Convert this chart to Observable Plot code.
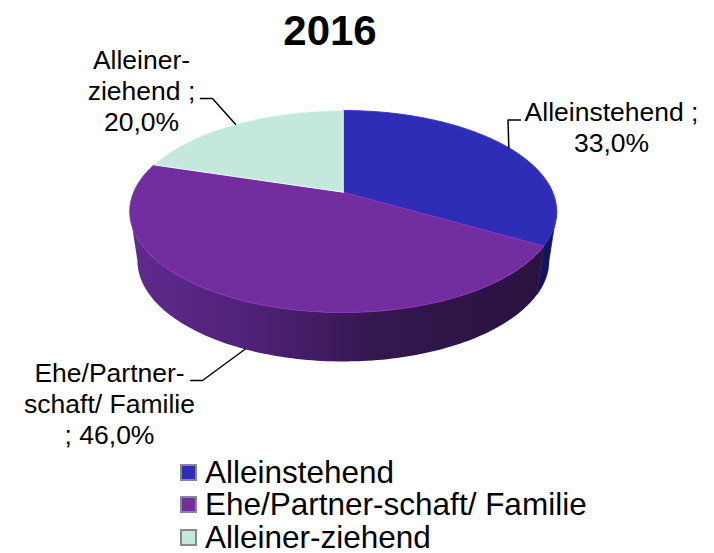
<!DOCTYPE html>
<html><head><meta charset="utf-8">
<script src="https://cdn.jsdelivr.net/npm/d3@7"></script>
<script src="https://cdn.jsdelivr.net/npm/@observablehq/plot@0.6"></script>
<style>
html,body{margin:0;padding:0;background:#fff;overflow:hidden;width:714px;height:553px}
body{font-family:"Liberation Sans",Arial,sans-serif;color:#000}
#title{height:40px;width:660px;text-align:center;font-weight:bold;font-size:42px;line-height:62px;position:relative;z-index:1}
#chart svg{display:block}
#legend{margin:1px 0 0 180px;height:97px}
.row{display:flex;align-items:center;height:32.5px;font-size:31.5px;line-height:31.5px;white-space:nowrap}
.sw{width:13px;height:13px;border:2px solid #888;margin-right:8px;flex:none}
</style></head>
<body>
<div id="title"></div><div id="chart"></div><div id="legend"></div>
<script>
const title = "2016";
const categories = ["Alleinstehend", "Ehe/Partner-schaft/ Familie", "Alleiner-ziehend"];
const shares = [33, 46, 20];
const labelLines = [["Alleinstehend ;"], ["Ehe/Partner-", "schaft/ Familie", ";"], ["Alleiner-", "ziehend ;"]];
const topColors = ["#2e2db5", "#722d9e", "#c4e8dc"];
const labelCentres = [[611, 126], [109, 402.5], [141, 89.5]];
const elbows = [[[507.5, 119.5], [520, 119.5]], [[202, 380], [190, 380]], [[212, 98], [200, 98]]];

// Perspective of the pie disc (chart px)
const cx = 342.7, cy = 191.7, a = 209.5, b = 97.3, k = 0.191, depth = 49, a2 = 202;
const project = (t, bottom = false) => {
  const X = Math.sin(t), Y = Math.cos(t), w = 1 + k * Y;
  return {x: cx + (bottom ? a2 : a) * X / w, y: cy - b * Y / w + (bottom ? depth : 0)};
};
const arc = (t0, t1, bottom = false) =>
  d3.range(0, 121).map(i => project(t0 + (t1 - t0) * i / 120, bottom));

const total = d3.sum(shares);
let acc = 0;
const slices = shares.map((v, i) => {
  const t0 = acc / total * 2 * Math.PI; acc += v;
  const t1 = acc / total * 2 * Math.PI;
  return {i, t0, t1, mid: (t0 + t1) / 2};
});

const turnR = Math.acos(-k), turnL = 2 * Math.PI - turnR;
const sidePoly = (t0, t1) => [...arc(t0, t1), ...arc(t1, t0, true), project(t0)];
const facePoly = s => [{x: cx, y: cy}, ...arc(s.t0, s.t1), {x: cx, y: cy}];

const marks = [];
marks.push(Plot.line(sidePoly(turnR, slices[0].t1), {x: "x", y: "y", fill: "#12145c", stroke: "#12145c", strokeWidth: 0.7}));
marks.push(Plot.line(sidePoly(slices[1].t0, turnL), {x: "x", y: "y", fill: "url(#sideGrad)", stroke: "none"}));
slices.forEach(s => marks.push(Plot.line(facePoly(s), {x: "x", y: "y", fill: topColors[s.i], stroke: d3.color(topColors[s.i]).brighter(0.5).formatHex(), strokeWidth: 1})));

const fmt = v => v.toFixed(1).replace(".", ",") + "%";
slices.forEach(s => {
  const bottom = s.i === 1;
  const anchor = project(s.mid, bottom);
  const pts = [anchor, ...elbows[s.i].map(([x, y]) => ({x, y}))];
  marks.push(Plot.line(pts, {x: "x", y: "y", stroke: "#000", strokeWidth: 1.5}));
  const lines = labelLines[s.i].slice();
  const val = fmt(shares[s.i]);
  if (lines[lines.length - 1] === ";") lines[lines.length - 1] = "; " + val; else lines.push(val);
  marks.push(Plot.text([lines.join("\n")], {
    x: () => labelCentres[s.i][0], y: () => labelCentres[s.i][1],
    text: d => d, fontSize: 26.5, lineHeight: 1.17, fill: "#000", textAnchor: "middle",
    fontFamily: "Liberation Sans, Arial, sans-serif"
  }));
});

const svg = Plot.plot({
  width: 714, height: 415, margin: 0,
  x: {domain: [0, 714], range: [0, 714], axis: null},
  y: {domain: [40, 455], range: [0, 415], axis: null},
  style: {background: "transparent", fontFamily: "Liberation Sans, Arial, sans-serif"},
  marks
});
const defs = d3.select(svg).insert("defs", ":first-child");
const g = defs.append("linearGradient").attr("id", "sideGrad")
  .attr("gradientUnits", "userSpaceOnUse").attr("x1", 130).attr("x2", 540).attr("y1", 0).attr("y2", 0);
[[0, "#5f2b8f"], [0.3, "#4f2176"], [0.6, "#34174f"], [1, "#2a1240"]].forEach(([o, c]) =>
  g.append("stop").attr("offset", o).attr("stop-color", c));

document.getElementById("chart").append(svg);
document.getElementById("title").textContent = title;
const legend = document.getElementById("legend");
categories.forEach((c, i) => {
  const r = document.createElement("div"); r.className = "row";
  const sw = document.createElement("span"); sw.className = "sw"; sw.style.background = topColors[i];
  const t = document.createElement("span"); t.textContent = c;
  r.append(sw, t); legend.append(r);
});
</script>
</body></html>
